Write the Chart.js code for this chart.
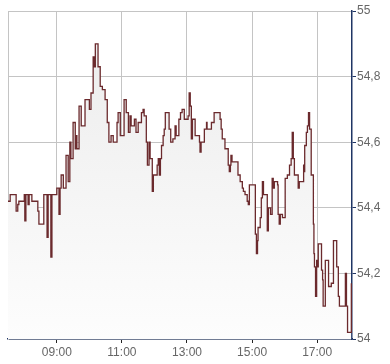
<!DOCTYPE html>
<html>
<head>
<meta charset="utf-8">
<script src="https://cdn.jsdelivr.net/npm/chart.js@4.4.1/dist/chart.umd.min.js"></script>
<style>
  html, body { margin: 0; padding: 0; background: #fff; }
  #wrap { width: 390px; height: 364px; }
</style>
</head>
<body>
<div id="wrap"><canvas id="myChart"></canvas></div>
<script>
// intraday prices, value holds from each time until the next one
const times = [
  '07:30','07:34','07:45','07:48','07:50','08:00','08:01','08:03','08:07','08:09',
  '08:14','08:25','08:27','08:36','08:42','08:44','08:49','08:51','09:00','09:04',
  '09:06','09:08','09:12','09:17','09:21','09:24','09:26','09:30','09:34','09:35',
  '09:37','09:41','09:45','09:52','10:00','10:03','10:07','10:09','10:11','10:16',
  '10:20','10:24','10:29','10:33','10:36','10:40','10:44','10:51','10:53','10:57',
  '11:04','11:08','11:12','11:15','11:17','11:23','11:26','11:30','11:36','11:39',
  '11:41','11:45','11:47','11:50','11:52','11:56','11:58','12:05','12:07','12:09',
  '12:11','12:13','12:16','12:18','12:20','12:27','12:30','12:34','12:38','12:40',
  '12:45','12:48','12:51','12:55','13:02','13:04','13:06','13:08','13:10','13:15',
  '13:23','13:24','13:26','13:32','13:36','13:37','13:45','13:50','14:01','14:03',
  '14:05','14:10','14:16','14:18','14:20','14:21','14:23','14:34','14:38','14:42',
  '14:44','14:47','14:51','14:53','14:55','15:06','15:08','15:10','15:11','15:15',
  '15:17','15:19','15:21','15:28','15:30','15:34','15:37','15:39','15:41','15:47',
  '15:48','15:50','15:52','15:56','16:01','16:05','16:09','16:12','16:14','16:16',
  '16:18','16:25','16:27','16:35','16:36','16:37','16:40','16:42','16:44','16:46',
  '16:49','16:53','16:54','16:55','16:57','16:59','17:00','17:02','17:06','17:08',
  '17:10','17:11','17:15','17:19','17:21','17:26','17:30','17:36','17:39','17:41',
  '17:52','17:54','17:56','18:03'
]
const prices = [
  54.42,54.44,54.39,54.41,54.42,54.44,54.36,54.44,54.41,54.44,
  54.42,54.39,54.35,54.44,54.31,54.44,54.25,54.44,54.46,54.38,
  54.46,54.50,54.46,54.56,54.48,54.60,54.55,54.66,54.58,54.62,
  54.58,54.71,54.65,54.73,54.70,54.75,54.86,54.83,54.90,54.83,
  54.77,54.76,54.73,54.66,54.60,54.62,54.60,54.66,54.69,54.62,
  54.73,54.69,54.63,54.68,54.65,54.67,54.63,54.66,54.69,54.70,
  54.68,54.60,54.53,54.60,54.55,54.45,54.50,54.53,54.55,54.50,
  54.55,54.59,54.62,54.64,54.69,54.64,54.60,54.61,54.65,54.62,
  54.67,54.69,54.70,54.67,54.68,54.75,54.71,54.61,54.67,54.62,
  54.60,54.57,54.60,54.64,54.66,54.64,54.66,54.69,54.67,54.64,
  54.61,54.58,54.53,54.51,54.53,54.56,54.54,54.50,54.48,54.46,
  54.45,54.44,54.42,54.41,54.47,54.32,54.26,54.30,54.34,54.37,
  54.43,54.48,54.44,54.33,54.40,54.38,54.49,54.46,54.48,54.47,
  54.38,54.35,54.38,54.37,54.49,54.50,54.53,54.55,54.63,54.55,
  54.50,54.46,54.48,54.53,54.51,54.59,54.63,54.65,54.69,54.64,
  54.50,54.35,54.26,54.22,54.13,54.24,54.22,54.29,54.29,54.21,
  54.18,54.10,54.24,54.24,54.16,54.17,54.30,54.22,54.13,54.10,
  54.20,54.10,54.02,54.17
]
const tickHours = [9, 11, 13, 15, 17]
const yTicks = [54, 54.2, 54.4, 54.6, 54.8, 55]

function toHours(t) {
    let [h, m] = t.split(':').map(Number)
    return h + m / 60
}

let points = times.map((t, i) => ({x: toHours(t), y: prices[i]}))

new Chart('myChart', {
    type: 'line',
    data: {
        datasets: [{
            data: points,
            stepped: true,
            borderColor: '#6b2a2d',
            borderWidth: 1.3,
            pointRadius: 0,
            fill: 'start',
            backgroundColor: function (context) {
                let area = context.chart.chartArea
                if (!area) return '#f2f2f2'
                let g = context.chart.ctx.createLinearGradient(0, area.top, 0, area.bottom)
                g.addColorStop(0, '#ebebeb')
                g.addColorStop(1, '#fdfdfd')
                return g
            }
        }]
    },
    options: {
        responsive: true,
        maintainAspectRatio: false,
        animation: false,
        layout: {padding: {left: 7, top: 11, right: 0, bottom: 0}},
        plugins: {legend: {display: false}, tooltip: {enabled: false}},
        scales: {
            x: {
                type: 'linear',
                min: 7.5,
                max: 18.07,
                afterBuildTicks: function (scale) {
                    scale.ticks = tickHours.map(v => ({value: v}))
                },
                afterFit: function (scale) { scale.height = 25 },
                ticks: {
                    color: '#666',
                    font: {family: 'Liberation Sans', size: 12},
                    padding: 2,
                    maxRotation: 0,
                    callback: v => String(v).padStart(2, '0') + ':00'
                },
                grid: {color: '#c4c4c4', tickColor: '#222', tickLength: 4, lineWidth: 1},
                border: {color: '#1f3564', width: 1.5}
            },
            y: {
                position: 'right',
                min: 54,
                max: 55,
                afterBuildTicks: function (scale) {
                    scale.ticks = yTicks.map(v => ({value: v}))
                },
                afterFit: function (scale) { scale.width = 38 },
                ticks: {
                    color: '#666',
                    font: {family: 'Liberation Sans', size: 12},
                    padding: 1,
                    callback: v => String(Number(v.toFixed(1))).replace('.', ',')
                },
                grid: {color: '#c4c4c4', tickColor: '#1f3564', tickLength: 4, lineWidth: 1},
                border: {color: '#1f3564', width: 1.5}
            },
            yl: {
                position: 'left',
                min: 54,
                max: 55,
                ticks: {display: false},
                grid: {display: false, drawTicks: false},
                afterFit: function (scale) { scale.width = 1 },
                border: {color: '#c4c4c4', width: 1}
            }
        }
    }
})
</script>
</body>
</html>
